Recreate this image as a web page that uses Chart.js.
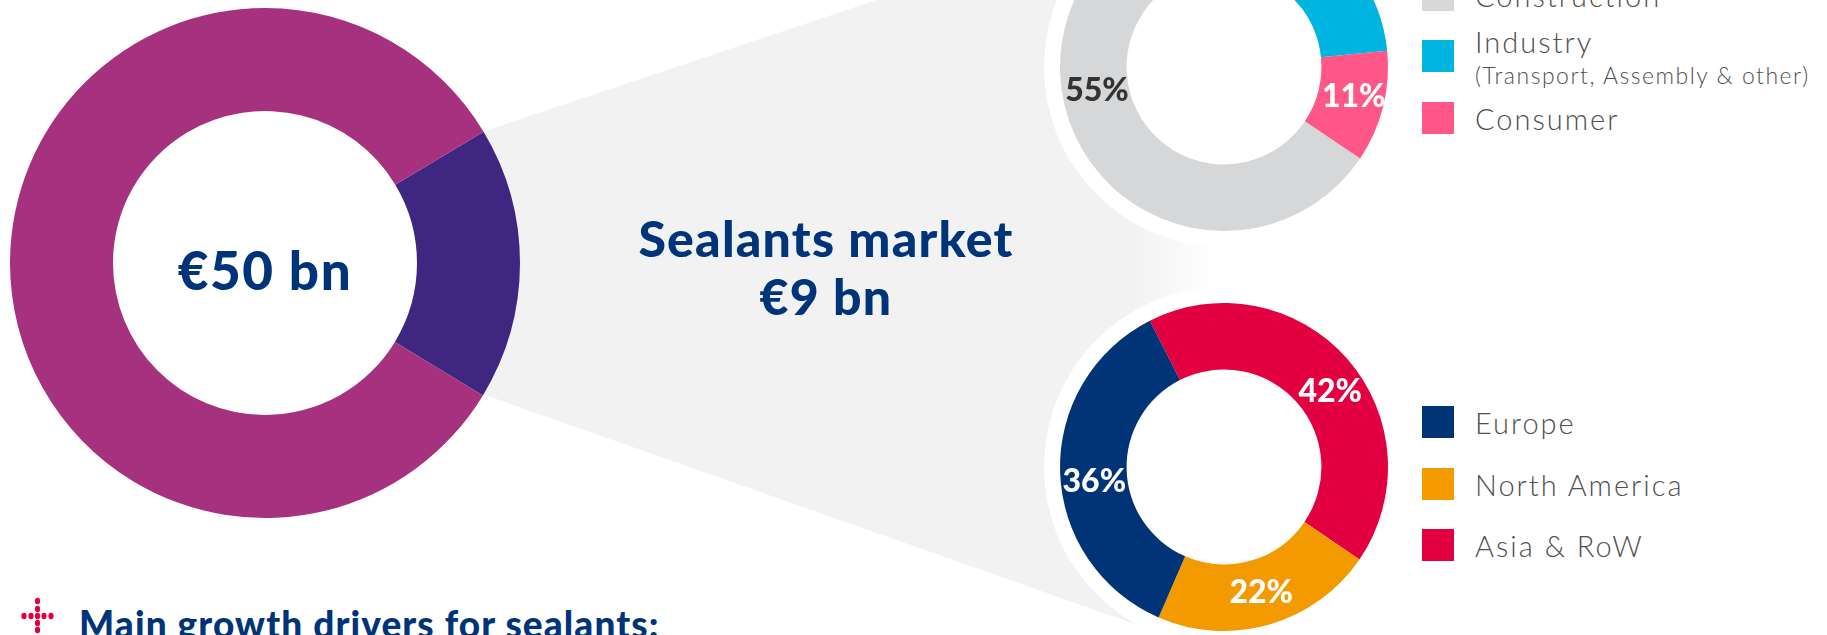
<!DOCTYPE html>
<html>
<head>
<meta charset="utf-8">
<script src="https://cdn.jsdelivr.net/npm/chart.js@4"></script>
<style>
html, body { margin: 0; padding: 0; background: #fff; width: 1827px; height: 635px; overflow: hidden; }
body { position: relative; font-family: Lato, sans-serif; }
.abs { position: absolute; white-space: nowrap; }
#funnel { left: 0; top: 0; width: 1827px; height: 635px;
  background: linear-gradient(90deg, #f2f2f2 0, #f2f2f2 1130px, #fff 1218px);
  clip-path: polygon(482px 132px, 1220px -115px, 1220px 654px, 482px 394px); }
canvas { position: absolute; }
.title { color: #003478; font-weight: 900; text-align: center; }
.swatch { position: absolute; left: 1422px; width: 32px; height: 32px; }
.leg { position: absolute; left: 1475px; color: #505050; font-size: 29px; font-weight: 300; letter-spacing: 2px; white-space: nowrap; }
.sub { font-size: 23px; letter-spacing: 1.5px; }
</style>
</head>
<body>
<div id="funnel" class="abs"></div>
<canvas id="totalChart" style="left:5px;top:3px" width="520" height="520"></canvas>
<canvas id="useChart" style="left:1044px;top:-113px" width="360" height="360"></canvas>
<canvas id="regionChart" style="left:1044px;top:287px" width="360" height="360"></canvas>

<div class="abs title" style="left:105px;top:240px;width:320px;line-height:60px;font-size:53px;letter-spacing:1.6px;">€50 bn</div>
<div class="abs title" style="left:526px;top:209px;width:600px;line-height:58px;font-size:50px;letter-spacing:1.2px;">Sealants market<br>€9 bn</div>

<div id="legends"></div>

<svg class="abs" id="bullet" style="left:0;top:590px" width="70" height="45"></svg>
<div class="abs" style="left:79px;top:602px;color:#003478;font-weight:900;font-size:37px;line-height:44px;letter-spacing:1.1px;">Main growth drivers for sealants:</div>

<script>
const totalLabels = ['Sealants', 'Other'];
const totalValues = [17.3, 82.7];
const totalColors = ['#3e2681', '#a6327f'];

const useLabels = ['Construction', 'Industry', 'Consumer'];
const useValues = [55, 34, 11];
const useColors = ['#d6d7d9', '#00b5df', '#ff5787'];
const useText = ['#333333', '#ffffff', '#ffffff'];

const regionLabels = ['Europe', 'North America', 'Asia & RoW'];
const regionValues = [36, 22, 42];
const regionColors = ['#003476', '#f39a00', '#e30040'];

// label nudges in px, the original slides were not placed on arc centres
const useShift = [[-38, -72], [0, 0], [3, -2]];
const regionShift = [[1, 11], [1, 0], [8, 11]];

// white halo behind the small rings + % labels
const ringPlugin = {
    id: 'ring',
    beforeDraw(chart, args, opts) {
        if (!opts.halo) return;
        const arc = chart.getDatasetMeta(0).data[0];
        const ctx = chart.ctx;
        ctx.save();
        ctx.fillStyle = '#fff';
        ctx.beginPath();
        ctx.arc(arc.x, arc.y, arc.outerRadius + opts.halo, 0, Math.PI * 2);
        ctx.fill();
        ctx.restore();
    },
    afterDraw(chart, args, opts) {
        if (!opts.text) return;
        const ctx = chart.ctx;
        const values = chart.data.datasets[0].data;
        ctx.save();
        ctx.font = '900 32px Lato';
        ctx.textAlign = 'center';
        ctx.textBaseline = 'middle';
        chart.getDatasetMeta(0).data.forEach((arc, i) => {
            const mid = (arc.startAngle + arc.endAngle) / 2;
            const r = (arc.innerRadius + arc.outerRadius) / 2;
            const s = opts.shift[i];
            ctx.fillStyle = opts.text[i];
            ctx.fillText(values[i] + '%', arc.x + Math.cos(mid) * r + s[0], arc.y + Math.sin(mid) * r + s[1]);
        });
        ctx.restore();
    }
};

function makeRing(id, labels, values, colors, rotation, cutout, pad, ringOpts) {
    return new Chart(document.getElementById(id), {
        type: 'doughnut',
        data: { labels, datasets: [{ data: values, backgroundColor: colors, borderWidth: 0 }] },
        options: {
            responsive: false,
            animation: false,
            rotation,
            cutout,
            layout: { padding: pad },
            plugins: { legend: { display: false }, tooltip: { enabled: false }, ring: ringOpts }
        },
        plugins: [ringPlugin]
    });
}

makeRing('totalChart', totalLabels, totalValues, totalColors, 59, '59.6%', 5, {});
makeRing('useChart', useLabels, useValues, useColors, 123.9, '59.4%', 16, { halo: 16, text: useText, shift: useShift });
// ring runs the other way round from the legend
makeRing('regionChart', [...regionLabels].reverse(), [...regionValues].reverse(), [...regionColors].reverse(), 333.1, '59.4%', 16,
    { halo: 16, text: ['#fff', '#fff', '#fff'], shift: [...regionShift].reverse() });

// legends
const legendTops = { use: [-21, 40, 102], region: [406, 468, 529] };
const legends = document.getElementById('legends');
function addLegend(labels, colors, tops) {
    labels.forEach((name, i) => {
        const sw = document.createElement('div');
        sw.className = 'swatch';
        sw.style.top = tops[i] + 'px';
        sw.style.background = colors[i];
        legends.appendChild(sw);
        const t = document.createElement('div');
        t.className = 'leg';
        t.style.top = (tops[i] - 1) + 'px';
        t.textContent = name;
        legends.appendChild(t);
    });
}
addLegend(useLabels, useColors, legendTops.use);
addLegend(regionLabels, regionColors, legendTops.region);
// Industry has a second line and sits higher
const indText = legends.querySelectorAll('.leg')[1];
indText.style.top = '24px';
const sub = document.createElement('div');
sub.className = 'leg sub';
sub.style.top = '61px';
sub.textContent = '(Transport, Assembly & other)';
legends.appendChild(sub);

// red dotted cross
const dotX = [24, 31, 37.5, 44, 51];
const dotY = [11, 19, 33, 40];
let dots = dotX.map(x => `<ellipse cx="${x}" cy="26" rx="2.6" ry="3.2"/>`).join('');
dots += dotY.map(y => `<ellipse cx="37.5" cy="${y}" rx="2.6" ry="3.2"/>`).join('');
document.getElementById('bullet').innerHTML = `<g fill="#e4003f">${dots}</g>`;
</script>
</body>
</html>
